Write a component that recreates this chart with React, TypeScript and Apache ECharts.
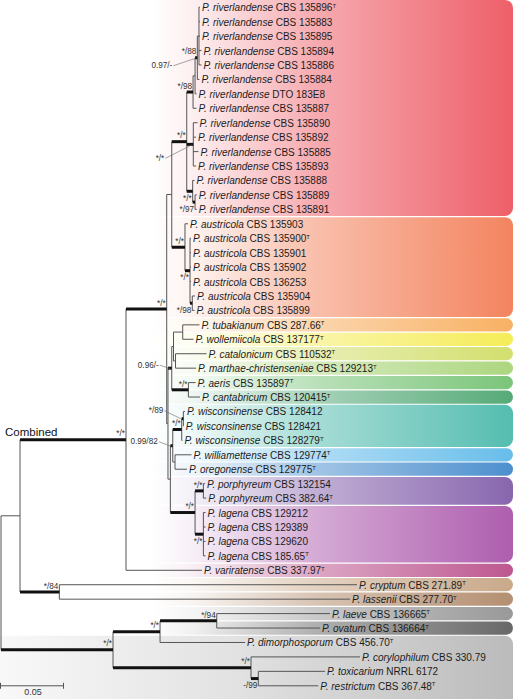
import React, { useEffect, useRef } from 'react';
import * as echarts from 'echarts';

// ---------------- DATA ----------------
const leafSpecies = [
  'P. riverlandense', 'P. riverlandense', 'P. riverlandense', 'P. riverlandense', 'P. riverlandense',
  'P. riverlandense', 'P. riverlandense', 'P. riverlandense', 'P. riverlandense', 'P. riverlandense',
  'P. riverlandense', 'P. riverlandense', 'P. riverlandense', 'P. riverlandense', 'P. riverlandense',
  'P. austricola', 'P. austricola', 'P. austricola', 'P. austricola', 'P. austricola', 'P. austricola', 'P. austricola',
  'P. tubakianum', 'P. wollemiicola', 'P. catalonicum', 'P. marthae-christenseniae', 'P. aeris', 'P. cantabricum',
  'P. wisconsinense', 'P. wisconsinense', 'P. wisconsinense', 'P. williamettense', 'P. oregonense',
  'P. porphyreum', 'P. porphyreum', 'P. lagena', 'P. lagena', 'P. lagena', 'P. lagena',
  'P. variratense', 'P. cryptum', 'P. lassenii', 'P. laeve', 'P. ovatum', 'P. dimorphosporum',
  'P. corylophilum', 'P. toxicarium', 'P. restrictum',
];
const leafStrains = [
  'CBS 135896', 'CBS 135883', 'CBS 135895', 'CBS 135894', 'CBS 135886', 'CBS 135884', 'DTO 183E8', 'CBS 135887',
  'CBS 135890', 'CBS 135892', 'CBS 135885', 'CBS 135893', 'CBS 135888', 'CBS 135889', 'CBS 135891',
  'CBS 135903', 'CBS 135900', 'CBS 135901', 'CBS 135902', 'CBS 136253', 'CBS 135904', 'CBS 135899',
  'CBS 287.66', 'CBS 137177', 'CBS 110532', 'CBS 129213', 'CBS 135897', 'CBS 120415',
  'CBS 128412', 'CBS 128421', 'CBS 128279', 'CBS 129774', 'CBS 129775', 'CBS 132154', 'CBS 382.64',
  'CBS 129212', 'CBS 129389', 'CBS 129620', 'CBS 185.65', 'CBS 337.97', 'CBS 271.89', 'CBS 277.70',
  'CBS 136665', 'CBS 136664', 'CBS 456.70', 'CBS 330.79', 'NRRL 6172', 'CBS 367.48',
];
const typeStrainLeaves = [0, 16, 22, 23, 24, 25, 26, 27, 30, 31, 32, 34, 38, 39, 40, 41, 42, 43, 44, 47];
// distance from root (substitutions/site) of each tip
const leafDepths = [
  0.1579, 0.1579, 0.1579, 0.1591, 0.1591, 0.1575, 0.1552, 0.1552, 0.156, 0.1548, 0.1567, 0.1548, 0.1536, 0.1554, 0.1554,
  0.1484, 0.1508, 0.1508, 0.1508, 0.1508, 0.154, 0.1536,
  0.1575, 0.1528, 0.1631, 0.1548, 0.1544, 0.1579,
  0.146, 0.145, 0.144, 0.1512, 0.1476, 0.1619, 0.1629, 0.1623, 0.1623, 0.1623, 0.1623,
  0.1595, 0.2825, 0.277, 0.2611, 0.2532, 0.1937, 0.2849, 0.2571, 0.2518,
];
// internal nodes: id, depth, children (numbers = leaf rows)
const nodeIds = [
  'root', 'B', 'C', 'CL', 'D', 'E', 'G', 'A4', 'A3', 'A2', 'A1', 'H', 'I', 'J', 'K', 'L', 'M',
  'F', 'P', 'Q', 'T1', 'T2', 'U', 'F2', 'X', 'W', 'W1', 'Y', 'Z', 'Z1', 'Z2', 'O', 'O1', 'O1a', 'O2', 'O2a',
];
const nodeDepths = [
  0, 0.0151, 0.0992, 0.0463, 0.1315, 0.1355, 0.1474, 0.1524, 0.154, 0.1558, 0.1571, 0.1526, 0.1521, 0.154, 0.146, 0.15, 0.1518,
  0.1325, 0.1355, 0.1369, 0.1442, 0.1385, 0.1487, 0.1344, 0.1363, 0.1434, 0.1447, 0.1381, 0.154, 0.1606, 0.1606,
  0.0889, 0.1262, 0.1712, 0.1984, 0.2042,
];
const nodeChildren: (string | number)[][] = [
  ['B', 'O'], ['C', 'CL'], ['D', 39], [40, 41], ['E', 'F'], ['G', 'K'], ['A4', 'H', 'I'], ['A3', 7], ['A2', 6], ['A1', 5],
  [0, 1, 2, 3, 4], [8, 9, 10, 11], [12, 'J'], [13, 14], [15, 'L'], [16, 17, 18, 19, 'M'], [20, 21],
  ['P', 'F2'], ['Q', 'U'], ['T1', 'T2'], [22, 23], [24, 25], [26, 27], ['X', 'Z'], ['W', 'Y'], ['W1', 30], [28, 29],
  [31, 32], ['Z1', 'Z2'], [33, 34], [35, 36, 37, 38], ['O1', 'O2'], ['O1a', 44], [42, 43], [45, 'O2a'], [46, 47],
];
// support values (posterior probability / bootstrap)
const supportNodes = [
  'A2', 'A2', 'A4', 'G', 'H', 'I', 'J', 'K', 'L', 'M', 'D', 'P', 'U', 'W1', 'W', 'X', 'Z1', 'Z', 'Z2',
  'C', 'CL', 'O', 'O1', 'O1a', 'O2', 'O2a',
];
const supportTexts = [
  '*/88', '0.97/-', '*/98', '*/*', '*/*', '*/*', '*/97', '*/*', '*/*', '*/98', '*/*', '0.96/-', '*/*', '*/89', '*/*',
  '0.99/82', '*/*', '*/*', '*/*', '*/*', '*/84', '*/*', '*/*', '*/94', '*/*', '-/99',
];
// clade boxes
const cladeFirstRow = [0, 15, 22, 23, 24, 25, 26, 27, 28, 31, 32, 33, 35, 39, 40, 41, 42, 43, 44];
const cladeLastRow = [14, 21, 22, 23, 24, 25, 26, 27, 30, 31, 32, 34, 38, 39, 40, 41, 42, 43, 47];
const cladeColors = [
  '#EE5F69', '#F3845F', '#F8B063', '#F5EC58', '#D3DF6E', '#ADD67F', '#7BC57A', '#56AA78', '#55BDB0',
  '#68BDEA', '#4C8FCE', '#8866AE', '#AE5EAE', '#BD5790', '#C9A98A', '#B48F71', '#999999', '#686868', '#BBBBBB',
];
const scaleBarLength = 0.05;
const scaleBarLabel = '0.05';
const treeTitle = 'Combined';
const titleNode = 'C';

// ---------------- LAYOUT / STYLE ----------------
const FONT = 'Liberation Sans';
const X_MAX = 0.4063;
// placement of support labels: a = above-left, b = below-left, [dx, dy] = leader label offset
const supportPlacement: (string | number[])[] = [
  'a', [-25, 8], 'a', 'a', [-29, 14], 'b', 'b', 'a', 'b', 'b', 'a', [-13, -3], 'a', [-20, -8], 'a',
  [-15, -4], 'a', 'a', 'b', 'a', 'a', 'a', 'a', 'a', 'a', 'b',
];

function rgba(hex: string, a: number) {
  const n = parseInt(hex.slice(1), 16);
  return `rgba(${(n >> 16) & 255},${(n >> 8) & 255},${n & 255},${a})`;
}

export default function App() {
  const ref = useRef<HTMLDivElement>(null);
  useEffect(() => {
    const chart = echarts.init(ref.current!, null, { renderer: 'svg' });
    const nodeIndex: Record<string, number> = {};
    nodeIds.forEach((id, i) => (nodeIndex[id] = i));
    const yCache: Record<string, number> = {};
    const refY = (c: string | number): number => (typeof c === 'number' ? c : nodeY(c));
    const refX = (c: string | number): number => (typeof c === 'number' ? leafDepths[c] : nodeDepths[nodeIndex[c]]);
    function nodeY(id: string): number {
      if (id in yCache) return yCache[id];
      const ch = nodeChildren[nodeIndex[id]];
      const y = (refY(ch[0]) + refY(ch[ch.length - 1])) / 2;
      yCache[id] = y;
      return y;
    }
    const supported = new Set(supportNodes);
    const thin: number[][] = [];
    const thick: number[][] = [];
    nodeIds.forEach((id, i) => {
      const ch = nodeChildren[i];
      const x = nodeDepths[i];
      thin.push([x, refY(ch[0]), x, refY(ch[ch.length - 1]), 0]);
      ch.forEach((c) => {
        const seg = [x, refY(c), refX(c), refY(c), 0];
        if (typeof c === 'string' && supported.has(c)) {
          seg[4] = 1;
          thick.push(seg);
        } else thin.push(seg);
      });
    });
    const segments = thin.concat(thick);
    const typeSet = new Set(typeStrainLeaves);

    const option: any = {
      animation: false,
      textStyle: { fontFamily: FONT },
      grid: { left: 1, right: 0, top: 0, bottom: 6 },
      xAxis: { type: 'value', min: 0, max: X_MAX, show: false },
      yAxis: { type: 'value', min: -0.5, max: 47.5, inverse: true, show: false },
      series: [
        {
          type: 'custom',
          clip: false,
          z: 1,
          data: cladeFirstRow.map((f, i) => [f, cladeLastRow[i], i]),
          renderItem: (params: any, api: any) => {
            const f = api.value(0);
            const l = api.value(1);
            const i = api.value(2);
            const cs = params.coordSys;
            const isLast = i === cladeColors.length - 1;
            const top = api.coord([0, f - 0.5])[1] + (f === 0 ? 0 : 0.6);
            const bottom = isLast ? api.getHeight() : api.coord([0, l + 0.5])[1] - 0.6;
            const x0 = isLast ? 0 : 150;
            const x1 = cs.x + cs.width;
            const c = cladeColors[i];
            const stops = isLast
              ? [
                  { offset: 0, color: rgba(c, 0.1) },
                  { offset: 0.45, color: rgba(c, 0.42) },
                  { offset: 1, color: rgba(c, 1) },
                ]
              : [
                  { offset: 0, color: rgba(c, 0) },
                  { offset: 0.12, color: rgba(c, 0.1) },
                  { offset: 0.45, color: rgba(c, 0.52) },
                  { offset: 1, color: rgba(c, 1) },
                ];
            return {
              type: 'rect',
              shape: { x: x0, y: top, width: x1 - x0, height: bottom - top, r: isLast ? [0, 8, 0, 0] : [0, 8, 8, 0] },
              style: { fill: new echarts.graphic.LinearGradient(0, 0, 1, 0, stops) },
            };
          },
        },
        {
          type: 'custom',
          clip: false,
          z: 2,
          data: segments,
          renderItem: (params: any, api: any) => {
            const p1 = api.coord([api.value(0), api.value(1)]);
            const p2 = api.coord([api.value(2), api.value(3)]);
            const t = api.value(4) === 1;
            return {
              type: 'line',
              shape: { x1: p1[0], y1: p1[1], x2: p2[0], y2: p2[1] },
              style: { stroke: t ? '#111' : '#555', lineWidth: t ? 3 : 1, lineCap: 'butt' },
            };
          },
        },
        {
          type: 'custom',
          clip: false,
          z: 3,
          data: leafDepths.map((d, i) => [d, i, i]),
          renderItem: (params: any, api: any) => {
            const i = api.value(2);
            const p = api.coord([api.value(0), api.value(1)]);
            const text = `{i|${leafSpecies[i]}}{n| ${leafStrains[i]}}${typeSet.has(i) ? '{s|T}' : ''}`;
            return {
              type: 'text',
              x: p[0] + 2,
              y: p[1] + 0.5,
              style: {
                text,
                fill: '#1c1c1c',
                fontSize: 10,
                fontFamily: FONT,
                align: 'left',
                verticalAlign: 'middle',
                rich: {
                  i: { fontStyle: 'italic', fontSize: 10, fontFamily: FONT, fill: '#1c1c1c' },
                  n: { fontSize: 10, fontFamily: FONT, fill: '#1c1c1c' },
                  s: { fontSize: 6, fontFamily: FONT, verticalAlign: 'top', fill: '#1c1c1c' },
                },
              },
            };
          },
        },
        {
          type: 'custom',
          clip: false,
          z: 4,
          data: supportNodes.map((n, i) => [nodeDepths[nodeIndex[n]], nodeY(n), i]),
          renderItem: (params: any, api: any) => {
            const i = api.value(2);
            const p = api.coord([api.value(0), api.value(1)]);
            const pl = supportPlacement[i];
            const base = {
              text: supportTexts[i],
              fill: '#333',
              fontSize: 8.2,
              fontFamily: FONT,
            };
            if (Array.isArray(pl)) {
              const tx = p[0] + pl[0];
              const ty = p[1] + pl[1];
              return {
                type: 'group',
                children: [
                  {
                    type: 'line',
                    shape: { x1: tx + 1, y1: ty, x2: p[0] - 1.5, y2: p[1] + 0.5 },
                    style: { stroke: '#666', lineWidth: 0.6 },
                  },
                  {
                    type: 'text',
                    x: tx,
                    y: ty,
                    style: { ...base, align: 'right', verticalAlign: 'middle' },
                  },
                ],
              };
            }
            const above = pl === 'a';
            return {
              type: 'text',
              x: p[0] - 1,
              y: above ? p[1] - 1.8 : p[1] + 3,
              style: {
                ...base,
                align: 'right',
                verticalAlign: above ? 'bottom' : 'top',
              },
            };
          },
        },
        {
          type: 'custom',
          clip: false,
          z: 5,
          data: [[0, scaleBarLength, leafDepths.length - 1]],
          renderItem: (params: any, api: any) => {
            const p1 = api.coord([api.value(0), api.value(2)]);
            const p2 = api.coord([api.value(1), api.value(2)]);
            const y = p1[1];
            const x1 = p1[0] - 0.5;
            const x2 = p2[0] - 0.5;
            return {
              type: 'group',
              children: [
                { type: 'line', shape: { x1, y1: y, x2, y2: y }, style: { stroke: '#555', lineWidth: 1 } },
                { type: 'line', shape: { x1, y1: y - 3, x2: x1, y2: y + 3 }, style: { stroke: '#555', lineWidth: 1 } },
                { type: 'line', shape: { x1: x2, y1: y - 3, x2, y2: y + 3 }, style: { stroke: '#555', lineWidth: 1 } },
                {
                  type: 'text',
                  x: (x1 + x2) / 2 + 1,
                  y: y + 2,
                  style: {
                    text: scaleBarLabel,
                    fill: '#333',
                    fontSize: 9,
                    fontFamily: FONT,
                    align: 'center',
                    verticalAlign: 'top',
                  },
                },
              ],
            };
          },
        },
        {
          type: 'custom',
          clip: false,
          z: 5,
          data: [[nodeDepths[nodeIndex['B']], nodeY(titleNode)]],
          renderItem: (params: any, api: any) => {
            const p = api.coord([api.value(0), api.value(1)]);
            return {
              type: 'text',
              x: p[0] - 15,
              y: p[1] - 2,
              style: {
                text: treeTitle,
                fill: '#111',
                fontSize: 11.5,
                fontFamily: FONT,
                align: 'left',
                verticalAlign: 'bottom',
              },
            };
          },
        },
      ],
    };
    chart.setOption(option);
    return () => chart.dispose();
  }, []);
  return (
    <div
      ref={ref}
      style={{ position: 'absolute', left: 0, top: 0, width: 513, height: 699, background: '#fff' }}
    />
  );
}
